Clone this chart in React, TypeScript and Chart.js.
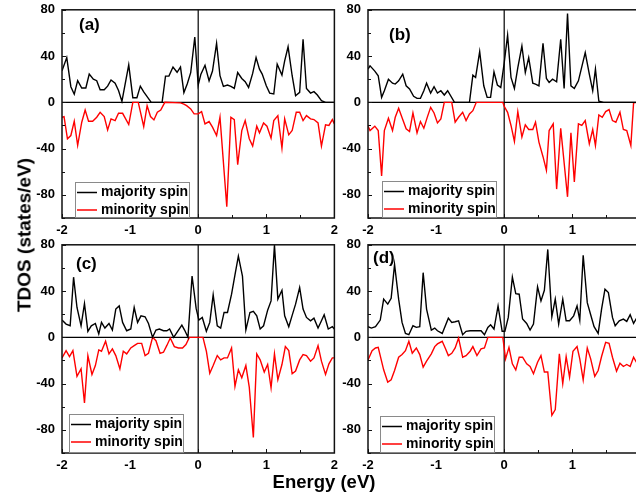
import React, { useEffect, useRef } from "react";
import { Chart, registerables } from "chart.js";

Chart.register(...registerables);

const FONT = "'Liberation Sans', Arial, Helvetica, sans-serif";

// ---- axes ----
const X_TICKS = [-2, -1, 0, 1, 2];
const Y_TICKS = [-80, -40, 0, 40, 80];
const SERIES_NAMES = ["majority spin", "minority spin"];
const PANEL_LABELS = ["(a)", "(b)", "(c)", "(d)"];
const X_TITLE = "Energy (eV)";
const Y_TITLE = "TDOS (states/eV)";

// ---- panel (a) ----
const aMajE = [-2.0, -1.93, -1.87, -1.82, -1.77, -1.71, -1.65, -1.6, -1.54, -1.49, -1.44, -1.38, -1.33, -1.28, -1.22, -1.17, -1.12, -1.02, -0.96, -0.9, -0.85, -0.8, -0.75, -0.69, -0.53, -0.48, -0.43, -0.37, -0.31, -0.26, -0.21, -0.16, -0.11, -0.05, 0.0, 0.04, 0.1, 0.16, 0.21, 0.27, 0.32, 0.37, 0.43, 0.48, 0.53, 0.58, 0.64, 0.69, 0.74, 0.8, 0.85, 0.9, 0.94, 1.0, 1.05, 1.11, 1.16, 1.23, 1.27, 1.32, 1.38, 1.43, 1.49, 1.54, 1.59, 1.65, 1.7, 1.75, 1.81, 1.87, 2.0];
const aMajV = [27.3, 38.7, 13.5, 7, 18.7, 12.4, 12.4, 24.4, 20, 18.7, 10.9, 10.9, 14, 19.3, 16.5, 10.2, 0.8, 32.4, 4, 4, 14, 9, 5, 0, 0, 22.7, 22.7, 30.5, 26, 30.5, 8.4, 16, 25.6, 56.5, 15, 24.4, 32, 18.6, 27, 51, 23, 13.8, 15, 13.8, 12, 25.8, 20.6, 17.8, 12.9, 25, 38.7, 28.7, 24.4, 14.3, 8, 7.2, 33, 23.5, 35.8, 48, 23, 5.7, 8.6, 54.5, 12, 8, 9.2, 6.3, 1.4, 0, 0];
const aMinE = [-2.0, -1.97, -1.92, -1.87, -1.82, -1.77, -1.71, -1.66, -1.61, -1.55, -1.49, -1.44, -1.38, -1.33, -1.28, -1.22, -1.17, -1.11, -1.02, -0.96, -0.88, -0.8, -0.75, -0.7, -0.65, -0.6, -0.55, -0.49, -0.26, -0.21, -0.17, -0.11, -0.06, 0.0, 0.05, 0.1, 0.16, 0.21, 0.27, 0.32, 0.42, 0.48, 0.53, 0.58, 0.64, 0.69, 0.75, 0.8, 0.86, 0.9, 0.96, 1.01, 1.07, 1.11, 1.17, 1.23, 1.27, 1.33, 1.38, 1.44, 1.49, 1.54, 1.59, 1.65, 1.7, 1.76, 1.81, 1.87, 1.92, 1.97, 2.0];
const aMinV = [-12.9, -12.3, -31.5, -28.7, -16.3, -37.2, -17.2, -6.6, -16.3, -16.3, -12.9, -8.6, -12.3, -23.8, -14.3, -15.8, -9.5, -9.5, -19.2, 0, 0, -20.9, -2.9, -12.3, -15.2, -8.6, -6.6, 0, -0.5, -1.5, -2.9, -5.7, -10, -10, -8, -18.6, -16.6, -21.5, -28.7, -12.9, -90.3, -12.9, -14.9, -53.9, -24.4, -15.8, -31.5, -37.8, -20.6, -26.4, -17.8, -20.6, -31, -15.8, -11.5, -39.6, -14.3, -28.1, -24.4, -8.6, -8.6, -15.8, -11.5, -14.3, -14.9, -17.8, -37.8, -19.5, -20, -14.9, -18.6];

// ---- panel (b) ----
const bMajE = [-2.0, -1.97, -1.9, -1.85, -1.8, -1.76, -1.7, -1.64, -1.6, -1.55, -1.49, -1.44, -1.39, -1.33, -1.28, -1.23, -1.18, -1.14, -1.08, -1.03, -0.98, -0.93, -0.88, -0.83, -0.73, -0.51, -0.46, -0.42, -0.36, -0.3, -0.25, -0.2, -0.15, -0.1, -0.05, 0.0, 0.05, 0.1, 0.15, 0.2, 0.26, 0.31, 0.36, 0.42, 0.46, 0.51, 0.57, 0.62, 0.66, 0.71, 0.77, 0.83, 0.88, 0.93, 0.98, 1.03, 1.09, 1.19, 1.25, 1.3, 1.34, 1.39, 1.46, 2.0];
const bMajV = [28.7, 31.5, 27, 23, 4.3, 10, 20, 16.6, 15.8, 18.6, 24.4, 14.3, 11.5, 5.2, 3.4, 3.4, 10, 16.6, 8, 13.5, 8, 10, 6.3, 10, 0, 0, 23.5, 21.5, 43.9, 14.3, 4.3, 4.3, 26.4, 15, 12.9, 34, 58, 21.5, 12, 30, 48.7, 25.8, 38.7, 16.6, 15.8, 14.3, 51, 20.6, 17.2, 20, 17.8, 54.5, 12, 76.8, 14.3, 12, 18.6, 43, 24.4, 10, 28.7, 0.9, 0, 0];
const bMinE = [-2.0, -1.97, -1.9, -1.85, -1.8, -1.76, -1.7, -1.64, -1.6, -1.55, -1.49, -1.44, -1.39, -1.34, -1.28, -1.23, -1.18, -1.13, -1.08, -1.03, -0.98, -0.93, -0.88, -0.77, -0.72, -0.67, -0.61, -0.56, -0.51, -0.46, -0.41, -0.02, 0.0, 0.05, 0.1, 0.15, 0.2, 0.26, 0.31, 0.36, 0.42, 0.46, 0.51, 0.57, 0.62, 0.66, 0.72, 0.77, 0.83, 0.93, 0.98, 1.03, 1.09, 1.14, 1.19, 1.25, 1.3, 1.34, 1.39, 1.44, 1.49, 1.54, 1.59, 1.64, 1.7, 1.75, 1.8, 1.86, 1.9, 1.95, 2.0];
const bMinV = [-20.6, -24.4, -20.6, -24.4, -63.6, -24.4, -13.8, -24.4, -12.9, -5.2, -14.9, -22.9, -25.2, -9.2, -26.4, -16.6, -22.4, -13, -4.3, -9.2, -17.8, -14.3, 0, 0, -17.2, -12.9, -8.6, -15.8, -10, -7.2, 0, 0, -3.4, -8.6, -20, -33.8, -8, -30, -19.5, -23.5, -23.5, -17.2, -34.4, -47, -58.8, -24.4, -18.6, -75, -22.4, -81.7, -26.4, -68.8, -18.6, -20, -15.8, -35.8, -23.5, -37.3, -10.9, -12.9, -8, -6.3, -15.8, -17.2, -8.6, -23.5, -24.4, -37.3, -0.5, 0, 0];

// ---- panel (c) ----
const cMajE = [-2.0, -1.94, -1.88, -1.83, -1.78, -1.72, -1.67, -1.62, -1.57, -1.51, -1.46, -1.42, -1.37, -1.31, -1.26, -1.21, -1.16, -1.11, -1.05, -0.99, -0.94, -0.89, -0.84, -0.78, -0.73, -0.67, -0.62, -0.57, -0.51, -0.46, -0.42, -0.36, -0.24, -0.2, -0.15, -0.09, -0.03, 0.01, 0.06, 0.12, 0.17, 0.22, 0.28, 0.33, 0.38, 0.43, 0.49, 0.54, 0.59, 0.65, 0.7, 0.76, 0.81, 0.86, 0.91, 0.96, 1.02, 1.07, 1.12, 1.17, 1.23, 1.27, 1.33, 1.38, 1.43, 1.49, 1.54, 1.59, 1.65, 1.7, 1.76, 1.8, 1.85, 1.91, 1.97, 2.0];
const cMajV = [14.9, 11.5, 10, 52, 25.8, 10, 29.2, 5.2, 10, 12, 2.9, 12.9, 8, 12, 6.3, 24.4, 27.2, 12.9, 5.7, 7.2, 25.8, 12.9, 18.6, 17.8, 12, 0, 6.3, 7.2, 5.7, 5.7, 7.2, 0, 10.6, 6.3, 0, 53, 25, 14.9, 17.2, 5.2, 12.9, 36.7, 10, 8, 21.5, 21.5, 37.3, 53.9, 70.2, 53, 6.3, 21.5, 22.4, 18.6, 7.2, 10, 23.5, 31.5, 79.7, 33, 40.7, 18.6, 9.2, 19, 28.7, 43, 24.4, 17.2, 14.3, 16.6, 8, 13, 19.5, 7.2, 9.2, 7.2];
const cMinE = [-2.0, -1.94, -1.89, -1.84, -1.78, -1.72, -1.67, -1.62, -1.56, -1.51, -1.46, -1.42, -1.36, -1.31, -1.26, -1.21, -1.15, -1.1, -1.05, -0.99, -0.94, -0.89, -0.83, -0.78, -0.73, -0.67, -0.62, -0.56, -0.51, -0.46, -0.41, -0.35, -0.29, -0.23, -0.18, -0.13, 0.07, 0.12, 0.17, 0.22, 0.28, 0.33, 0.38, 0.43, 0.49, 0.54, 0.59, 0.64, 0.7, 0.75, 0.81, 0.86, 0.91, 0.97, 1.02, 1.07, 1.12, 1.17, 1.23, 1.28, 1.33, 1.38, 1.43, 1.49, 1.54, 1.59, 1.65, 1.7, 1.76, 1.81, 1.87, 1.92, 1.97, 2.0];
const cMinV = [-17.8, -11.5, -16.6, -11.5, -33.8, -27.2, -56.8, -15.8, -32.1, -24.4, -10.9, -12, -3.4, -14.3, -10, -15.8, -27.2, -12, -14.3, -9.2, -7.2, -5.2, -5.2, -15.8, -13.8, 0, -2.9, -13.8, -12.9, -7, -0.6, -8, -9.2, -9.2, -6.3, 0, 0, -12, -31, -24.4, -15.8, -19.5, -17.8, -17.8, -9.2, -42.4, -28.1, -35, -24.4, -43, -86.6, -14.3, -19.5, -30, -23.5, -43.6, -14.3, -36.7, -23.5, -8, -11.5, -31.5, -29.2, -19.5, -14.9, -15.8, -20.6, -17.8, -7.2, -20.6, -32.1, -22.9, -17.8, -17.8];

// ---- panel (d) ----
const dMajE = [-2.0, -1.95, -1.89, -1.82, -1.77, -1.71, -1.66, -1.61, -1.55, -1.5, -1.45, -1.4, -1.34, -1.29, -1.24, -1.19, -1.14, -1.07, -1.02, -0.98, -0.91, -0.82, -0.77, -0.72, -0.67, -0.61, -0.56, -0.5, -0.39, -0.34, -0.29, -0.24, -0.2, -0.15, -0.09, -0.03, 0.01, 0.06, 0.12, 0.17, 0.22, 0.27, 0.33, 0.38, 0.43, 0.49, 0.54, 0.59, 0.64, 0.7, 0.75, 0.8, 0.86, 0.91, 0.96, 1.02, 1.07, 1.11, 1.16, 1.22, 1.27, 1.32, 1.38, 1.43, 1.48, 1.53, 1.59, 1.63, 1.69, 1.75, 1.8, 1.85, 1.9, 1.95, 2.0];
const dMajV = [9.2, 8, 9.2, 14.9, 33, 28.7, 33.8, 63, 33, 12.9, 3.4, 2.3, 10, 8.6, 9.2, 55.9, 24.4, 6.3, 8, 5.7, 3.4, 16.6, 12.9, 13.5, 14.3, 2.3, 5.2, 5.7, 5.7, 5.7, 2.3, 8.6, 10.9, 7.2, 27.2, 5.2, 5.2, 17.2, 52, 37.8, 37.3, 15.8, 12, 6.3, 11.5, 43.6, 31.5, 40.7, 76, 17.8, 33, 11.5, 33, 14.3, 14.3, 18.6, 27.2, 14.9, 71, 30, 19.5, 9.2, 3.4, 24.4, 41.6, 38.7, 17.2, 10, 14.3, 15.8, 13.8, 19.5, 12, 17.2, 15];
const dMinE = [-2.0, -1.94, -1.89, -1.85, -1.77, -1.71, -1.66, -1.61, -1.55, -1.5, -1.45, -1.4, -1.35, -1.29, -1.24, -1.19, -1.14, -1.07, -1.02, -0.98, -0.91, -0.86, -0.82, -0.77, -0.72, -0.67, -0.61, -0.56, -0.5, -0.46, -0.4, -0.34, -0.29, -0.24, -0.02, 0.02, 0.07, 0.12, 0.17, 0.22, 0.27, 0.33, 0.38, 0.43, 0.49, 0.54, 0.59, 0.64, 0.7, 0.75, 0.81, 0.86, 0.91, 0.96, 1.01, 1.07, 1.11, 1.16, 1.22, 1.27, 1.33, 1.38, 1.43, 1.49, 1.54, 1.59, 1.65, 1.7, 1.75, 1.8, 1.85, 1.9, 1.95, 2.0];
const dMinV = [-19.5, -11.5, -9.2, -8.6, -28.1, -38.7, -36.7, -28.7, -17.2, -14.9, -11.5, -3.4, -13.8, -9.2, -14.9, -25.8, -20.6, -14.3, -8, -5.7, -3.4, -10, -15.8, -13.8, -9.2, -0.6, -17.2, -15.8, -12, -8, -15.8, -10, -9.2, 0, 0, -18.6, -8.6, -22.9, -28.1, -17.2, -17.2, -22.9, -25.2, -31.5, -21.5, -15.8, -30, -30, -67.4, -62.5, -14.3, -40.1, -16.6, -34.4, -12, -8, -18.6, -36.7, -9.2, -18.6, -33.8, -28.7, -16.6, -4.3, -5.2, -17.2, -29.2, -22.4, -25.2, -23.5, -25.2, -17.2, -22.4, -20];

type Deco = {
  label: string;
  labelDx: number;
  labelDy: number;
  legDx: number;
  legDy: number;
};

const pts = (e: number[], v: number[]) => e.map((x, i) => ({ x, y: v[i] }));

const decoPlugin = {
  id: "panelDeco",
  beforeDatasetsDraw(chart: any) {
    const { ctx, chartArea: a, scales } = chart;
    const x0 = scales.x.getPixelForValue(0);
    const y0 = scales.y.getPixelForValue(0);
    ctx.save();
    ctx.strokeStyle = "#000";
    ctx.lineWidth = 1.2;
    ctx.beginPath();
    ctx.moveTo(a.left, y0);
    ctx.lineTo(a.right, y0);
    ctx.moveTo(x0, a.top);
    ctx.lineTo(x0, a.bottom);
    ctx.stroke();
    ctx.restore();
  },
  afterDatasetsDraw(chart: any, _args: any, opts: Deco) {
    const { ctx, chartArea: a, scales } = chart;
    ctx.save();
    // frame
    ctx.strokeStyle = "#111";
    ctx.lineWidth = 1.5;
    ctx.strokeRect(a.left, a.top, a.right - a.left, a.bottom - a.top);
    // inward ticks
    ctx.lineWidth = 1;
    ctx.beginPath();
    for (let v = -100; v <= 80; v += 20) {
      const py = Math.round(scales.y.getPixelForValue(v)) + 0.5;
      ctx.moveTo(a.left, py);
      ctx.lineTo(a.left + (v % 40 === 0 ? 4 : 3), py);
    }
    for (let v = -2; v <= 2; v += 0.5) {
      const px = Math.round(scales.x.getPixelForValue(v)) + 0.5;
      ctx.moveTo(px, a.bottom);
      ctx.lineTo(px, a.bottom - (Number.isInteger(v) ? 4 : 3));
    }
    ctx.stroke();
    // legend
    const lx = Math.round(a.left + opts.legDx);
    const ly = Math.round(a.top + opts.legDy);
    const lw = 114;
    const lh = a.bottom - ly;
    ctx.fillStyle = "#fff";
    ctx.fillRect(lx, ly, lw, lh);
    ctx.strokeStyle = "#8a8a8a";
    ctx.lineWidth = 1;
    ctx.strokeRect(lx + 0.5, ly + 0.5, lw, lh - 1);
    const colors = ["#000", "#ff0000"];
    const rows = [ly + 10.5, ly + 28];
    ctx.font = `bold 14px ${FONT}`;
    ctx.textBaseline = "middle";
    ctx.textAlign = "left";
    SERIES_NAMES.forEach((name, i) => {
      ctx.strokeStyle = colors[i];
      ctx.lineWidth = 1.5;
      ctx.beginPath();
      ctx.moveTo(lx + 2, rows[i]);
      ctx.lineTo(lx + 22, rows[i]);
      ctx.stroke();
      ctx.fillStyle = "#000";
      ctx.fillText(name, lx + 26, rows[i]);
    });
    // panel label
    ctx.font = `bold 17px ${FONT}`;
    ctx.fillStyle = "#000";
    ctx.fillText(opts.label, a.left + opts.labelDx, a.top + opts.labelDy);
    ctx.restore();
  },
};

const CW = 343;
const CH = 245;

function Panel(props: {
  majE: number[];
  majV: number[];
  minE: number[];
  minV: number[];
  deco: Deco;
  left: number;
  top: number;
}) {
  const ref = useRef<HTMLCanvasElement | null>(null);
  useEffect(() => {
    if (!ref.current) return;
    const tickFont = { family: FONT, size: 13, weight: "bold" as const };
    const chart = new Chart(ref.current, {
      type: "line",
      data: {
        datasets: [
          {
            label: SERIES_NAMES[0],
            data: pts(props.majE, props.majV),
            borderColor: "#000",
            borderWidth: 1.4,
            pointRadius: 0,
            tension: 0,
            fill: false,
          },
          {
            label: SERIES_NAMES[1],
            data: pts(props.minE, props.minV),
            borderColor: "#ff0000",
            borderWidth: 1.4,
            pointRadius: 0,
            tension: 0,
            fill: false,
          },
        ],
      },
      options: {
        animation: false,
        responsive: false,
        maintainAspectRatio: false,
        layout: { padding: { top: 9, right: 6, left: 0, bottom: 0 } },
        plugins: {
          legend: { display: false },
          tooltip: { enabled: false },
          panelDeco: props.deco,
        } as any,
        scales: {
          x: {
            type: "linear",
            min: -2,
            max: 2,
            afterBuildTicks: (s: any) => {
              s.ticks = X_TICKS.map((value) => ({ value }));
            },
            afterFit: (s: any) => {
              s.height = 22;
            },
            grid: { display: false, drawTicks: false },
            border: { display: false },
            ticks: {
              font: tickFont,
              color: "#000",
              padding: 5,
              maxRotation: 0,
              autoSkip: false,
              callback: (v: any) => String(v),
            },
          },
          y: {
            type: "linear",
            min: -100,
            max: 80,
            afterBuildTicks: (s: any) => {
              s.ticks = Y_TICKS.map((value) => ({ value }));
            },
            afterFit: (s: any) => {
              s.width = 62;
            },
            grid: { display: false, drawTicks: false },
            border: { display: false },
            ticks: {
              font: tickFont,
              color: "#000",
              padding: 7,
              autoSkip: false,
              callback: (v: any) => String(v),
            },
          },
        },
      } as any,
      plugins: [decoPlugin as any],
    });
    return () => chart.destroy();
  }, []);
  return (
    <canvas
      ref={ref}
      width={CW}
      height={CH}
      style={{ position: "absolute", left: props.left, top: props.top, width: CW, height: CH }}
    />
  );
}

export default function App() {
  return (
    <div
      style={{
        position: "absolute",
        left: 0,
        top: 0,
        width: 636,
        height: 499,
        overflow: "hidden",
        background: "#fff",
        fontFamily: FONT,
      }}
    >
      <Panel majE={aMajE} majV={aMajV} minE={aMinE} minV={aMinV} left={0} top={-5}
        deco={{ label: PANEL_LABELS[0], labelDx: 17, labelDy: 16, legDx: 13, legDy: 172 }} />
      <Panel majE={bMajE} majV={bMajV} minE={bMinE} minV={bMinV} left={306} top={-5}
        deco={{ label: PANEL_LABELS[1], labelDx: 21, labelDy: 26, legDx: 13.5, legDy: 171 }} />
      <Panel majE={cMajE} majV={cMajV} minE={cMinE} minV={cMinV} left={0} top={230}
        deco={{ label: PANEL_LABELS[2], labelDx: 14, labelDy: 19.5, legDx: 7, legDy: 169 }} />
      <Panel majE={dMajE} majV={dMajV} minE={dMinE} minV={dMinV} left={306} top={230}
        deco={{ label: PANEL_LABELS[3], labelDx: 5, labelDy: 13.5, legDx: 12, legDy: 171 }} />
      <div
        style={{
          position: "absolute",
          left: 23.5,
          top: 235,
          transform: "translate(-50%, -50%) rotate(-90deg)",
          whiteSpace: "nowrap",
          fontWeight: "bold",
          fontSize: 19,
          lineHeight: 1,
          color: "#000",
        }}
      >
        {Y_TITLE}
      </div>
      <div
        style={{
          position: "absolute",
          left: 324,
          top: 482,
          transform: "translate(-50%, -50%)",
          whiteSpace: "nowrap",
          fontWeight: "bold",
          fontSize: 18.5,
          lineHeight: 1,
          color: "#000",
        }}
      >
        {X_TITLE}
      </div>
    </div>
  );
}
